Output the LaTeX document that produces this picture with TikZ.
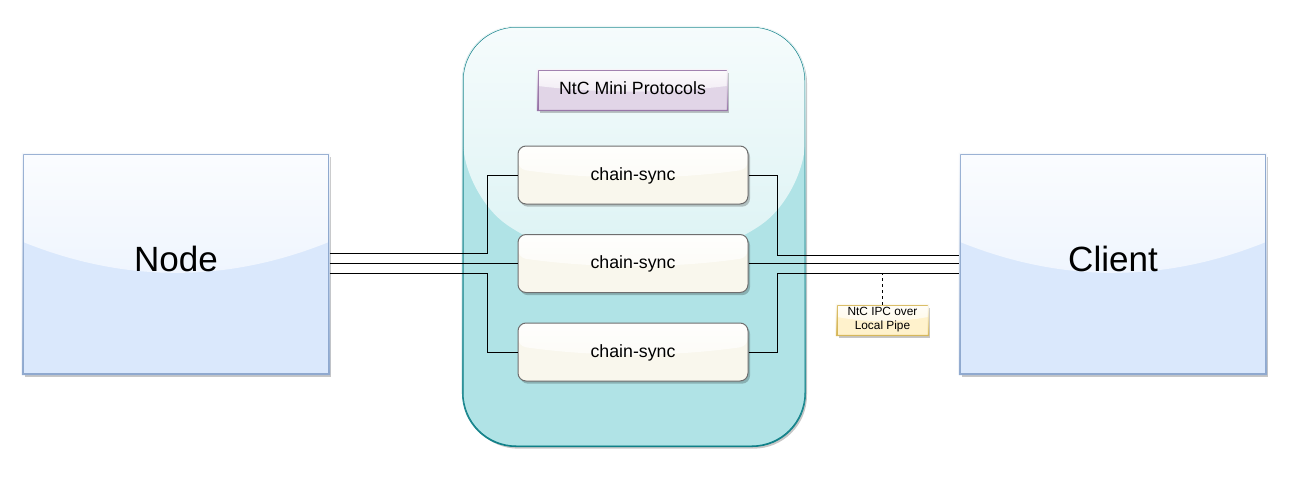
\documentclass[tikz,border=0pt]{standalone}
\usepackage{fontspec}
\setmainfont{Liberation Sans}
\usetikzlibrary{calc,shadows}
\definecolor{nodefill}{HTML}{DAE8FC}
\definecolor{nodeline}{HTML}{8FA9CF}
\definecolor{contfill}{HTML}{B0E3E6}
\definecolor{contline}{HTML}{0E8088}
\definecolor{labfill}{HTML}{E1D5E7}
\definecolor{labline}{HTML}{9673A6}
\definecolor{chainfill}{HTML}{F9F7ED}
\definecolor{chainline}{HTML}{6E6E6E}
\definecolor{notefill}{HTML}{FFF2CC}
\definecolor{noteline}{HTML}{D6B656}
\tikzset{
  gloss/.style={path picture={
    \fill[top color=white!88!#1, bottom color=white!30!#1]
      let \p1=(path picture bounding box.north west), \p2=(path picture bounding box.south east) in
      (\x1,\y1) -- (\x1,{\y1+0.4*(\y2-\y1)})
      .. controls ({\x1+(\x2-\x1)/3},{\y1+0.587*(\y2-\y1)}) and ({\x1+2*(\x2-\x1)/3},{\y1+0.587*(\y2-\y1)}) ..
      (\x2,{\y1+0.4*(\y2-\y1)}) -- (\x2,\y1) -- cycle;
  }},
  shad/.style={drop shadow={shadow xshift=1.5pt, shadow yshift=-2pt, opacity=0.22, fill=black}},
  bigbox/.style={draw=nodeline, fill=nodefill, line width=0.9pt, shad, gloss=nodefill,
    minimum width=229.5pt, minimum height=165pt, inner sep=0pt, text depth=7.5pt,
    font=\fontsize{26.3}{30}\selectfont},
  container/.style={draw=contline, fill=contfill, line width=0.75pt, shad, gloss=contfill,
    rounded corners=40pt, minimum width=256.5pt, minimum height=314.25pt, inner sep=0pt},
  labbox/.style={draw=labline, fill=labfill, line width=0.75pt, shad, gloss=labfill,
    minimum width=141.75pt, minimum height=30pt, inner sep=0pt, text depth=3pt,
    font=\fontsize{13.3}{16}\selectfont},
  chainbox/.style={draw=chainline, fill=chainfill, line width=0.75pt, shad, gloss=chainfill,
    rounded corners=6pt, minimum width=172.5pt, minimum height=43.5pt, inner sep=0pt, text depth=2pt,
    font=\fontsize{13.3}{16}\selectfont},
  notebox/.style={draw=noteline, fill=notefill, line width=0.75pt, shad, gloss=notefill,
    minimum width=68.25pt, minimum height=22.5pt, inner sep=0pt, align=center,
    font=\fontsize{8.9}{10.5}\selectfont},
  wire/.style={draw=black, line width=0.75pt},
}
% lightened (glossy) border overlay: #1 node, #2 outer opts, #3 inner opts, #4 half line width, #5 colour
\newcommand{\glossring}[5]{%
  \shade[even odd rule, top color=white!92!#5, middle color=#5, bottom color=#5]
    [#2] ($(#1.north west)+(-#4,#4)$) rectangle ($(#1.south east)+(#4,-#4)$)
    [#3] ($(#1.north west)+(#4,-#4)$) rectangle ($(#1.south east)+(-#4,#4)$);
}
\begin{document}
\begin{tikzpicture}[x=0.75pt,y=-0.75pt]
\useasboundingbox[fill=white] (0,0) rectangle (1297,482);

\node[container] (cont) at (634,236.5) {};
\glossring{cont}{rounded corners=40.4pt}{rounded corners=39.6pt}{0.4pt}{contline}
\node[labbox] (lab) at (632.5,90) {NtC Mini Protocols};
\glossring{lab}{sharp corners}{sharp corners}{0.4pt}{labline}
\node[chainbox] (b1) at (633,175) {chain-sync};
\node[chainbox] (b2) at (633,263.5) {chain-sync};
\node[chainbox] (b3) at (633,352) {chain-sync};

\node[bigbox] (N) at (176,264) {Node};
\glossring{N}{sharp corners}{sharp corners}{0.45pt}{nodeline}
\node[bigbox] (C) at (1113,264) {Client};
\glossring{C}{sharp corners}{sharp corners}{0.45pt}{nodeline}

\node[notebox] (note) at (882.5,320) {NtC IPC over\\Local Pipe};
\glossring{note}{sharp corners}{sharp corners}{0.4pt}{noteline}

% left side wires
\draw[wire] ($(N.east)+(0,-10.5)$) -| ($(b1.west)+(-30,0)$) -- (b1.west);
\draw[wire] ($(N.east)+(0,-0.5)$) -- (b2.west);
\draw[wire] ($(N.east)+(0,9.5)$) -| ($(b3.west)+(-30,0)$) -- (b3.west);

% right side wires
\draw[wire] (b1.east) -| ($(C.west)+(-182,-8.5)$) -- ($(C.west)+(0,-8.5)$);
\draw[wire] (b2.east) -- ($(C.west)+(0,-0.5)$);
\draw[wire] (b3.east) -| ($(C.west)+(-182,9.5)$) -- ($(C.west)+(0,9.5)$);

\coordinate (tap) at ($(note.north |- C.west)+(0,9.5)$);
\draw[line width=0.75pt, dash pattern=on 2.25pt off 2.25pt] (note.north) -- (tap);
\end{tikzpicture}
\end{document}
